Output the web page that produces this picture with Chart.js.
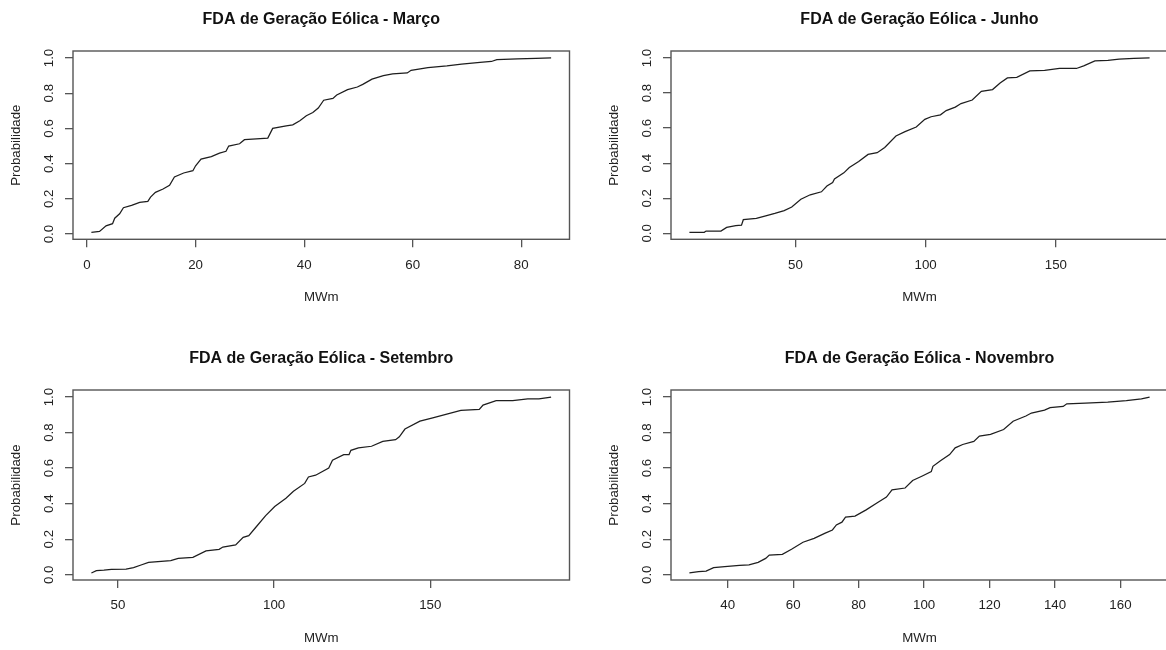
<!DOCTYPE html>
<html lang="pt-BR">
<head>
<meta charset="utf-8">
<title>FDA de Geração Eólica</title>
<script src="https://cdn.jsdelivr.net/npm/chart.js@4.4.1/dist/chart.umd.min.js"></script>
<style>
    html, body { margin: 0; padding: 0; background: #fff; width: 1166px; height: 650px; overflow: hidden; }
    canvas { position: absolute; }
</style>
</head>
<body>
<canvas id="graficoMarco" width="583" height="325" style="left:0px;top:0px"></canvas>
<canvas id="graficoJunho" width="585" height="325" style="left:598px;top:0px"></canvas>
<canvas id="graficoSetembro" width="583" height="325" style="left:0px;top:325px"></canvas>
<canvas id="graficoNovembro" width="585" height="325" style="left:598px;top:325px"></canvas>
<script>
    // eixo de probabilidade, igual nos quatro gráficos
    const ticksProb = [0, 0.2, 0.4, 0.6, 0.8, 1.0];

    // Março
    const mwmMarco = [0.8, 2.3, 3.5, 4.7, 5.1, 6.0, 6.7, 8.2, 9.7, 11.2, 11.7, 12.6, 14.0, 15.2, 16.1, 17.8, 19.5, 20.0, 21.0, 22.9,
        24.4, 25.6, 26.1, 28.1, 29.0, 31.2, 33.3, 34.2, 36.7, 37.9, 39.2, 40.4, 41.6, 42.6, 43.6, 45.3, 46.0, 48.0, 49.8, 50.8,
        52.5, 54.6, 56.3, 59.0, 59.7, 62.8, 66.3, 69.0, 72.4, 74.5, 75.5, 79.3, 82.7, 85.5];
    const probMarco = [0.01, 0.015, 0.047, 0.059, 0.09, 0.115, 0.15, 0.163, 0.18, 0.186, 0.21, 0.237, 0.256, 0.277, 0.324, 0.347, 0.36, 0.388, 0.426, 0.44,
        0.46, 0.47, 0.50, 0.513, 0.536, 0.54, 0.545, 0.60, 0.615, 0.62, 0.644, 0.672, 0.69, 0.716, 0.76, 0.77, 0.79, 0.82, 0.835, 0.85,
        0.88, 0.90, 0.91, 0.915, 0.93, 0.945, 0.955, 0.965, 0.975, 0.98, 0.99, 0.995, 0.998, 1.0];
    const ticksMarco = [0, 20, 40, 60, 80];

    // Junho
    const mwmJunho = [9.3, 15.0, 15.7, 21.4, 23.6, 27.1, 29.3, 30.0, 35.0, 38.6, 42.1, 45.7, 48.6, 52.1, 55.7, 60.0, 62.1, 64.3, 65.0, 68.6,
        70.7, 74.3, 77.9, 81.4, 84.3, 88.6, 92.1, 96.4, 99.7, 102.1, 105.7, 107.9, 111.4, 113.6, 117.9, 121.4, 125.7, 128.6, 131.4, 135.0,
        140.0, 145.7, 151.4, 157.9, 160.7, 165.0, 170.0, 174.3, 180.0, 186.0];
    const probJunho = [0.006, 0.006, 0.013, 0.013, 0.034, 0.044, 0.047, 0.078, 0.085, 0.10, 0.114, 0.13, 0.15, 0.195, 0.22, 0.237, 0.27, 0.29, 0.31, 0.345,
        0.375, 0.41, 0.45, 0.46, 0.49, 0.555, 0.58, 0.606, 0.65, 0.665, 0.676, 0.70, 0.72, 0.74, 0.76, 0.81, 0.82, 0.857, 0.886, 0.89,
        0.926, 0.93, 0.94, 0.94, 0.955, 0.983, 0.987, 0.994, 0.998, 1.0];
    const ticksJunho = [50, 100, 150];

    // Setembro
    const mwmSetembro = [41.5, 43.1, 45.5, 47.9, 52.6, 55.0, 57.4, 59.8, 66.9, 69.3, 74.0, 78.2, 82.4, 83.6, 87.7, 90.1, 91.9, 94.3, 97.3, 100.2,
        103.8, 106.2, 109.8, 111.0, 113.3, 117.5, 118.7, 122.3, 124.0, 124.6, 127.0, 131.2, 134.8, 138.9, 140.1, 141.9, 146.7, 150.8, 155.0, 159.8,
        165.7, 166.9, 171.1, 176.4, 181.2, 184.8, 188.7];
    const probSetembro = [0.01, 0.023, 0.026, 0.03, 0.032, 0.04, 0.055, 0.07, 0.08, 0.092, 0.098, 0.134, 0.143, 0.156, 0.168, 0.21, 0.22, 0.27, 0.333, 0.384,
        0.43, 0.47, 0.514, 0.55, 0.56, 0.60, 0.644, 0.676, 0.676, 0.70, 0.714, 0.723, 0.75, 0.76, 0.776, 0.82, 0.864, 0.883, 0.902, 0.925,
        0.93, 0.955, 0.98, 0.98, 0.99, 0.99, 1.0];
    const ticksSetembro = [50, 100, 150];

    // Novembro
    const mwmNovembro = [28.3, 31.1, 33.4, 35.7, 39.1, 43.6, 46.5, 49.3, 51.6, 52.7, 56.7, 59.5, 63.0, 66.4, 69.8, 72.0, 73.2, 74.9, 76.0, 78.9,
        82.3, 85.7, 88.5, 90.2, 94.2, 96.5, 99.3, 102.2, 102.7, 105.0, 107.8, 109.5, 111.8, 115.2, 116.9, 120.3, 124.3, 127.2, 131.1, 132.8,
        136.8, 138.5, 142.5, 143.6, 149.3, 156.1, 161.8, 166.4, 168.9];
    const probNovembro = [0.01, 0.017, 0.02, 0.04, 0.045, 0.053, 0.056, 0.07, 0.092, 0.111, 0.115, 0.143, 0.183, 0.205, 0.234, 0.252, 0.28, 0.296, 0.324, 0.33,
        0.365, 0.405, 0.437, 0.478, 0.488, 0.53, 0.554, 0.58, 0.61, 0.642, 0.676, 0.714, 0.733, 0.75, 0.78, 0.79, 0.817, 0.864, 0.893, 0.91,
        0.926, 0.94, 0.947, 0.962, 0.966, 0.972, 0.98, 0.99, 1.0];
    const ticksNovembro = [40, 60, 80, 100, 120, 140, 160];

    const fonteTexto = { family: 'Liberation Sans, Arial, sans-serif', size: 13.3 };
    const corTexto = '#222';
    const corEixo = '#555';

    // moldura da área de plotagem (box do R)
    const pluginMoldura = {
        id: 'moldura',
        afterDraw(chart) {
            const { ctx, chartArea } = chart;
            ctx.save();
            ctx.strokeStyle = corEixo;
            ctx.lineWidth = 1.4;
            ctx.strokeRect(chartArea.left, chartArea.top, chartArea.right - chartArea.left, chartArea.bottom - chartArea.top);
            ctx.restore();
        }
    };

    // faixa dos dados com folga de 4% de cada lado
    function limitesEixo(valores) {
        let min = Math.min(...valores);
        let max = Math.max(...valores);
        let folga = (max - min) * 0.04;
        return [min - folga, max + folga];
    }

    function plotarFDA(idCanvas, titulo, mwm, prob, ticksX, margens) {

        let pontos = [];
        for (let i = 0; i < mwm.length; i++) {
            pontos.push({ x: mwm[i], y: prob[i] });
        }

        let limX = limitesEixo(mwm);
        let limY = limitesEixo(prob);

        const config = {
            type: 'scatter',
            data: {
                datasets: [{
                    data: pontos,
                    showLine: true,
                    borderColor: '#1e1e1e',
                    borderWidth: 1.25,
                    pointRadius: 0,
                    tension: 0
                }]
            },
            options: {
                responsive: false,
                animation: false,
                devicePixelRatio: 1,
                layout: { padding: margens },
                plugins: {
                    legend: { display: false },
                    tooltip: { enabled: false },
                    title: {
                        display: true,
                        text: titulo,
                        fullSize: false,
                        color: '#111',
                        font: { family: 'Liberation Sans, Arial, sans-serif', size: 16, weight: 'bold' },
                        padding: { top: 0, bottom: 22.1 }
                    }
                },
                scales: {
                    x: {
                        type: 'linear',
                        min: limX[0],
                        max: limX[1],
                        afterBuildTicks: eixo => { eixo.ticks = ticksX.map(v => ({ value: v })); },
                        afterFit: eixo => { eixo.height = 70; },
                        border: { display: false },
                        grid: { drawOnChartArea: false, drawTicks: true, tickLength: 8, color: corEixo, lineWidth: 1.3 },
                        ticks: { font: fonteTexto, color: corTexto, padding: 9.7, autoSkip: false, maxRotation: 0, callback: v => String(v) },
                        title: { display: true, text: 'MWm', font: fonteTexto, color: corTexto, padding: { top: 0, bottom: 3.6 } }
                    },
                    y: {
                        type: 'linear',
                        min: limY[0],
                        max: limY[1],
                        afterBuildTicks: eixo => { eixo.ticks = ticksProb.map(v => ({ value: v })); },
                        afterFit: eixo => { eixo.width = 73; },
                        border: { display: false },
                        grid: { drawOnChartArea: false, drawTicks: true, tickLength: 8, color: corEixo, lineWidth: 1.3 },
                        ticks: {
                            font: fonteTexto, color: corTexto, padding: 6.75, autoSkip: false,
                            minRotation: 90, maxRotation: 90, crossAlign: 'center',
                            callback: v => v.toFixed(1)
                        },
                        title: { display: true, text: 'Probabilidade', font: fonteTexto, color: corTexto, padding: { top: 8.7, bottom: 0 } }
                    }
                }
            },
            plugins: [pluginMoldura]
        };

        console.log(`plotando ${titulo} com ${pontos.length} pontos`);
        return new Chart(document.getElementById(idCanvas), config);
    }

    plotarFDA('graficoMarco', 'FDA de Geração Eólica - Março', mwmMarco, probMarco, ticksMarco,
        { left: 0, top: 9.7, right: 13.5, bottom: 15.7 });
    plotarFDA('graficoJunho', 'FDA de Geração Eólica - Junho', mwmJunho, probJunho, ticksJunho,
        { left: 0, top: 9.7, right: 15, bottom: 15.7 });
    plotarFDA('graficoSetembro', 'FDA de Geração Eólica - Setembro', mwmSetembro, probSetembro, ticksSetembro,
        { left: 0, top: 23.7, right: 13.5, bottom: 0 });
    plotarFDA('graficoNovembro', 'FDA de Geração Eólica - Novembro', mwmNovembro, probNovembro, ticksNovembro,
        { left: 0, top: 23.7, right: 15, bottom: 0 });
</script>
</body>
</html>
